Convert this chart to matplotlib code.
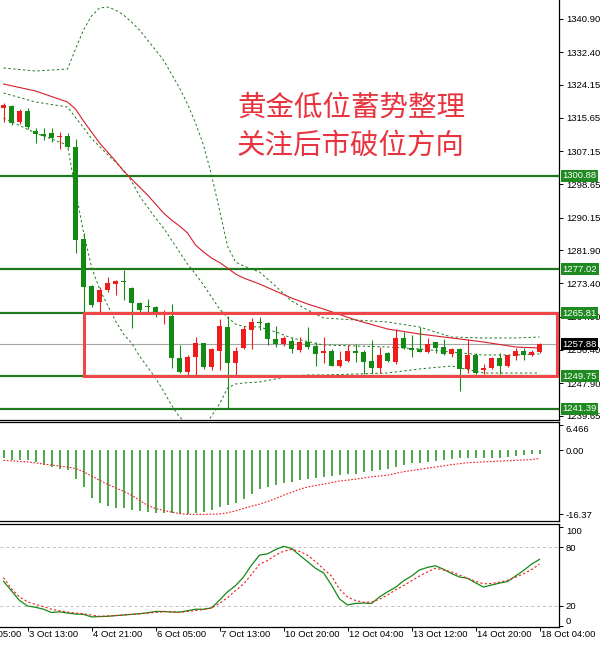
import numpy as np
import matplotlib
matplotlib.use("Agg")
import matplotlib.pyplot as plt
from matplotlib.patches import Rectangle

plt.rcParams['font.family'] = ['Liberation Sans', 'DejaVu Sans']

# 4h gold candles
opens = [1318.18, 1318.69, 1314.60, 1317.41, 1312.31, 1311.54, 1311.80, 1310.77, 1311.03, 1308.22,
         1284.73, 1272.73, 1268.65, 1271.71, 1273.24, 1273.88, 1272.22, 1268.39, 1267.50, 1267.37,
         1265.59, 1265.08, 1254.35, 1250.78, 1254.61, 1258.18, 1252.06, 1256.14, 1262.27, 1253.08,
         1256.91, 1261.50, 1263.29, 1263.29, 1259.20, 1257.93, 1258.69, 1256.40, 1258.44, 1257.42,
         1255.63, 1256.14, 1252.31, 1253.59, 1256.14, 1255.88, 1253.59, 1251.80, 1255.63, 1253.33,
         1259.46, 1256.91, 1256.65, 1255.88, 1258.44, 1257.16, 1255.37, 1256.65, 1251.55, 1255.12,
         1251.29, 1251.80, 1254.35, 1252.31, 1254.86, 1256.14, 1255.12, 1255.88]
highs = [1319.45, 1318.94, 1317.92, 1318.18, 1313.07, 1313.07, 1313.07, 1312.05, 1311.80, 1310.26,
         1286.27, 1272.99, 1272.48, 1275.03, 1274.26, 1276.82, 1272.48, 1268.65, 1269.41, 1267.63,
         1266.61, 1268.14, 1257.67, 1255.12, 1259.71, 1258.18, 1256.91, 1264.31, 1265.08, 1257.16,
         1262.52, 1264.56, 1264.82, 1263.54, 1262.52, 1259.97, 1259.71, 1259.71, 1262.27, 1258.44,
         1259.71, 1256.65, 1256.14, 1257.67, 1257.93, 1256.40, 1258.95, 1257.16, 1255.88, 1261.76,
         1261.01, 1260.22, 1262.27, 1259.46, 1258.44, 1259.20, 1256.91, 1256.91, 1259.20, 1255.63,
         1252.82, 1254.61, 1255.63, 1255.12, 1256.91, 1256.91, 1256.40, 1258.18]
lows = [1314.60, 1313.84, 1314.09, 1312.82, 1309.24, 1310.01, 1309.50, 1307.71, 1307.97, 1281.16,
        1266.10, 1267.37, 1266.10, 1271.20, 1270.44, 1269.16, 1262.01, 1266.10, 1266.10, 1264.82,
        1263.03, 1251.80, 1250.52, 1250.01, 1250.01, 1251.55, 1251.29, 1251.29, 1241.59, 1250.01,
        1256.65, 1256.65, 1261.50, 1257.67, 1257.16, 1257.42, 1255.63, 1255.88, 1256.65, 1252.31,
        1253.08, 1252.31, 1252.06, 1253.33, 1253.33, 1250.27, 1250.52, 1250.52, 1253.33, 1252.82,
        1256.65, 1254.61, 1255.88, 1255.63, 1255.63, 1255.12, 1254.61, 1245.93, 1250.52, 1250.27,
        1250.27, 1251.55, 1250.27, 1252.06, 1253.84, 1253.84, 1254.86, 1255.63]
closes = [1318.94, 1314.35, 1317.41, 1313.33, 1311.54, 1311.03, 1310.52, 1311.03, 1308.22, 1284.48,
          1272.48, 1267.88, 1271.71, 1273.50, 1274.01, 1273.63, 1268.39, 1266.61, 1267.37, 1266.10,
          1266.10, 1254.35, 1250.78, 1254.61, 1258.18, 1252.06, 1256.65, 1262.52, 1253.08, 1256.14,
          1261.76, 1263.54, 1263.16, 1259.20, 1257.93, 1259.46, 1256.65, 1258.44, 1257.16, 1255.37,
          1256.14, 1252.31, 1253.84, 1256.14, 1255.63, 1253.33, 1251.80, 1255.12, 1253.59, 1259.46,
          1256.91, 1256.40, 1255.88, 1257.93, 1256.91, 1255.37, 1256.65, 1251.55, 1255.12, 1250.52,
          1251.80, 1254.35, 1252.31, 1255.12, 1256.14, 1255.12, 1255.88, 1257.88]

# Bollinger bands and red moving average, sampled at these bars
band_bars = [0, 4, 8, 9, 10, 11, 12, 13, 14, 15, 16, 17, 18, 19, 20, 21, 22, 23, 24, 25, 26, 27, 28,
             29, 30, 32, 34, 36, 38, 40, 44, 48, 52, 56, 60, 64, 67]
upper_band = [1328.39, 1327.62, 1328.13, 1333.24, 1338.09, 1341.66, 1343.71, 1343.96, 1343.20, 1341.92,
              1340.13, 1338.09, 1335.54, 1332.99, 1330.43, 1326.86, 1323.28, 1319.20, 1314.35, 1308.73,
              1301.07, 1292.14, 1282.95, 1278.86, 1277.84, 1276.31, 1272.73, 1268.90, 1266.61, 1264.56,
              1264.06, 1263.54, 1262.27, 1259.71, 1259.46, 1259.46, 1259.71]
middle_band = [1322.01, 1319.71, 1318.43, 1315.75, 1313.17, 1310.39, 1308.35, 1306.31, 1304.39, 1302.35,
               1299.54, 1295.71, 1292.90, 1290.10, 1287.54, 1284.48, 1281.42, 1278.35, 1275.80, 1272.99,
               1269.93, 1266.86, 1264.69, 1263.03, 1262.39, 1262.27, 1261.01, 1259.46, 1258.56, 1257.67,
               1257.42, 1257.16, 1256.65, 1255.88, 1255.12, 1255.12, 1255.37]
lower_band = [1315.62, 1311.79, 1308.73, 1297.01, 1286.52, 1277.58, 1271.97, 1267.88, 1263.80, 1260.48,
              1258.18, 1254.86, 1252.06, 1249.25, 1245.93, 1242.36, 1239.29, 1237.50, 1236.74, 1236.23,
              1239.55, 1242.61, 1246.69, 1247.71, 1247.97, 1248.22, 1248.99, 1249.76, 1250.01, 1250.01,
              1250.27, 1250.52, 1251.55, 1252.31, 1250.52, 1250.52, 1250.52]
red_ma = [1324.30, 1322.52, 1319.71, 1317.92, 1314.86, 1312.05, 1309.24, 1306.94, 1304.65, 1302.09,
          1300.05, 1298.01, 1295.97, 1293.67, 1291.37, 1289.58, 1288.05, 1286.27, 1283.20, 1281.42,
          1279.88, 1278.73, 1277.33, 1275.80, 1274.78, 1273.24, 1271.46, 1269.67, 1268.14, 1266.86,
          1264.06, 1261.76, 1260.48, 1259.46, 1258.44, 1257.16, 1256.91]

green_levels = [1300.88, 1277.02, 1265.81, 1249.75, 1241.39]
box_top, box_bottom, box_start_bar = 1265.81, 1249.75, 10
price_ticks = [1340.90, 1332.40, 1324.15, 1315.65, 1307.15, 1298.65, 1290.15, 1281.90, 1273.40,
               1264.90, 1256.40, 1247.90, 1239.65]

macd_hist = [-2.1, -2.6, -2.6, -2.6, -3.0, -3.8, -4.3, -4.7, -5.1, -7.3,
             -9.4, -12.2, -13.4, -14.2, -14.8, -14.9, -15.4, -15.6, -15.8, -16.0,
             -16.0, -16.0, -16.2, -16.2, -16.0, -15.8, -15.4, -14.5, -14.1, -13.4,
             -12.4, -11.3, -10.0, -9.4, -9.0, -8.5, -8.1, -7.7, -7.3, -7.0,
             -6.8, -6.7, -6.4, -6.0, -6.0, -5.5, -5.4, -5.1, -4.7, -4.3,
             -3.8, -3.4, -3.2, -3.0, -2.8, -2.6, -2.3, -2.1, -2.1, -2.1,
             -2.1, -2.0, -2.0, -1.7, -1.5, -1.3, -1.1, -0.9]
signal_bars = [0, 3, 6, 8, 9, 10, 11, 12, 13, 14, 15, 16, 17, 18, 19, 20, 21, 22, 23, 25, 27, 28, 29,
               30, 31, 32, 33, 34, 35, 36, 37, 38, 40, 42, 44, 46, 48, 50, 52, 54, 56, 58, 60, 62, 64,
               66, 67]
signal_vals = [-2.6, -3.0, -3.8, -4.3, -4.7, -5.5, -6.6, -7.7, -8.7, -9.6, -10.5, -11.5, -12.8, -14.1,
               -14.9, -15.4, -15.8, -16.2, -16.4, -16.4, -16.3, -16.0, -15.5, -14.9, -14.3, -13.8,
               -13.1, -12.4, -11.5, -10.8, -10.0, -9.4, -8.7, -7.9, -7.4, -6.8, -6.4, -5.5, -4.9,
               -4.3, -3.7, -3.2, -3.0, -2.8, -2.6, -2.4, -2.1]

stoch_k = [45.2, 35.4, 25.6, 20.0, 18.7, 16.7, 13.4, 14.1, 12.8, 11.8,
           11.5, 8.9, 9.2, 9.5, 10.2, 10.8, 11.5, 12.1, 13.1, 14.4,
           14.4, 13.8, 13.8, 15.1, 16.7, 16.7, 18.0, 25.9, 34.4, 40.7,
           49.5, 61.6, 71.8, 73.1, 77.4, 80.7, 78.7, 71.8, 65.2, 58.4,
           53.8, 41.3, 27.2, 21.0, 22.6, 23.0, 22.6, 29.2, 34.4, 39.0,
           45.6, 50.5, 56.7, 59.3, 61.0, 57.4, 53.1, 49.5, 48.2, 43.6,
           39.3, 41.3, 43.3, 44.9, 50.5, 56.1, 62.6, 67.5]
stoch_d = [48.9, 37.4, 29.2, 24.3, 21.6, 19.3, 16.7, 15.1, 13.8, 12.8,
           12.1, 10.8, 9.5, 9.8, 10.2, 10.8, 11.5, 12.1, 12.8, 13.4,
           14.1, 14.4, 13.4, 14.4, 15.4, 16.4, 18.0, 22.6, 28.5, 35.7,
           42.3, 52.1, 62.6, 66.2, 71.8, 75.7, 77.7, 75.7, 71.8, 65.2,
           57.7, 50.5, 37.0, 29.2, 25.6, 23.9, 23.9, 26.9, 31.1, 36.4,
           40.7, 45.6, 50.5, 54.8, 58.4, 56.7, 54.8, 51.5, 48.2, 45.2,
           42.6, 42.9, 44.3, 46.2, 49.2, 52.8, 57.0, 62.6]

date_bars = [-5, 3, 11, 19, 27, 35, 43, 51, 59, 67]
date_labels = ["30 Sep 05:00", "3 Oct 13:00", "4 Oct 21:00", "6 Oct 05:00", "7 Oct 13:00",
               "10 Oct 20:00", "12 Oct 04:00", "13 Oct 12:00", "14 Oct 20:00", "18 Oct 04:00"]

GREEN = "#138a13"
LINE_GREEN = "#1f7a1f"
RED = "#ee1c1c"
W, H = 601, 645

fig = plt.figure(figsize=(W / 100, H / 100), dpi=100)

def panel(top, bottom):
    a = fig.add_axes([0, (H - bottom) / H, 559 / W, (bottom - top) / H])
    a.set_xlim(-0.4375, 69.4375)
    a.yaxis.tick_right()
    a.tick_params(axis="y", direction="out", length=3, width=0.7, labelsize=6.8, pad=2)
    a.tick_params(axis="x", bottom=False, labelbottom=False)
    a.spines["left"].set_visible(False)
    for side in ("right", "top", "bottom"):
        a.spines[side].set_linewidth(0.9)
    return a

ax = panel(0, 420)
ax.spines["top"].set_visible(False)
ax_macd = panel(422, 521)
ax_st = panel(524, 627)

# main chart
ax.set_ylim(1238.52, 1345.75)
x = np.arange(len(opens))
o, h, l, c = map(np.array, (opens, highs, lows, closes))
colors = np.where(c > o, RED, GREEN)
for lvl in green_levels:
    ax.axhline(lvl, color=LINE_GREEN, lw=1.6, zorder=1)
ax.axhline(closes[-1], color="#a6a6a6", lw=0.8, zorder=1)

ax.plot(band_bars, upper_band, color=LINE_GREEN, lw=0.7, ls=(0, (2.5, 2.5)), zorder=2)
ax.plot(band_bars, middle_band, color=LINE_GREEN, lw=0.7, ls=(0, (2.5, 2.5)), zorder=2)
ax.plot(band_bars, lower_band, color=LINE_GREEN, lw=0.7, ls=(0, (2.5, 2.5)), zorder=2)
ax.plot(band_bars, red_ma, color="#d41e2a", lw=0.8, zorder=2)

ax.vlines(x, l, h, colors=colors, lw=0.8, zorder=3)
ax.bar(x, np.maximum(np.abs(c - o), 0.3), bottom=np.minimum(o, c), width=0.62,
       color=colors, linewidth=0, zorder=3)

ax.add_patch(Rectangle((box_start_bar, box_bottom), ax.get_xlim()[1] - 0.25 - box_start_bar,
                       box_top - box_bottom, fill=False, edgecolor="#f04848", lw=2.2, zorder=4))

ax.set_yticks(price_ticks)
ax.set_yticklabels([f"{p:.2f}" for p in price_ticks])
for lvl in green_levels:
    ax.text(1.006, lvl, f"{lvl:.2f}", transform=ax.get_yaxis_transform(), fontsize=6.8,
            color="white", ha="left", va="center", clip_on=False, zorder=6,
            bbox=dict(facecolor="#1f8a1f", edgecolor="none", pad=1.2))
ax.text(1.006, closes[-1], f"{closes[-1]:.2f}", transform=ax.get_yaxis_transform(), fontsize=6.8,
        color="white", ha="left", va="center", clip_on=False, zorder=6,
        bbox=dict(facecolor="black", edgecolor="none", pad=1.2))

for line, ypos in (("黄金低位蓄势整理", 0.743), ("关注后市破位方向", 0.652)):
    ax.text(0.424, ypos, line, transform=ax.transAxes, fontsize=20.5, color="#e8343f",
            family=["Noto Sans CJK SC", "DejaVu Sans"], ha="left", va="center", zorder=5)

# MACD
ax_macd.set_ylim(-18.1, 7.2)
ax_macd.vlines(x, 0, macd_hist, colors="#1d8f1d", lw=1.1)
ax_macd.plot(signal_bars, signal_vals, color=RED, lw=0.8, ls=(0, (1.5, 1.5)))
ax_macd.set_yticks([6.466, 0.0, -16.37])
ax_macd.set_yticklabels(["6.466", "0.00", "-16.37"])
ax_macd.get_yticklabels()[0].set_va("top")

# Stochastic
ax_st.set_ylim(-1.4, 103.5)
for lvl in (20, 80):
    ax_st.axhline(lvl, color="#bdbdbd", lw=0.7, ls=(0, (3, 3)))
ax_st.plot(x, stoch_k, color=GREEN, lw=0.9)
ax_st.plot(x, stoch_d, color=RED, lw=0.8, ls=(0, (2, 2)))
ax_st.set_yticks([100, 80, 20, 0])
ax_st.set_yticklabels(["100", "80", "20", "0"])
st_labels = ax_st.get_yticklabels()
st_labels[0].set_va("top")
st_labels[-1].set_va("bottom")

ax_st.set_xticks([b for b in date_bars if b >= 0])
ax_st.tick_params(axis="x", bottom=True, direction="out", length=3, width=0.7)
for b, lab in zip(date_bars, date_labels):
    ax_st.text(b + 0.2, -0.025, lab, transform=ax_st.get_xaxis_transform(), fontsize=6.8,
               ha="left", va="top", clip_on=False)

fig.savefig("out.png", dpi=100)
